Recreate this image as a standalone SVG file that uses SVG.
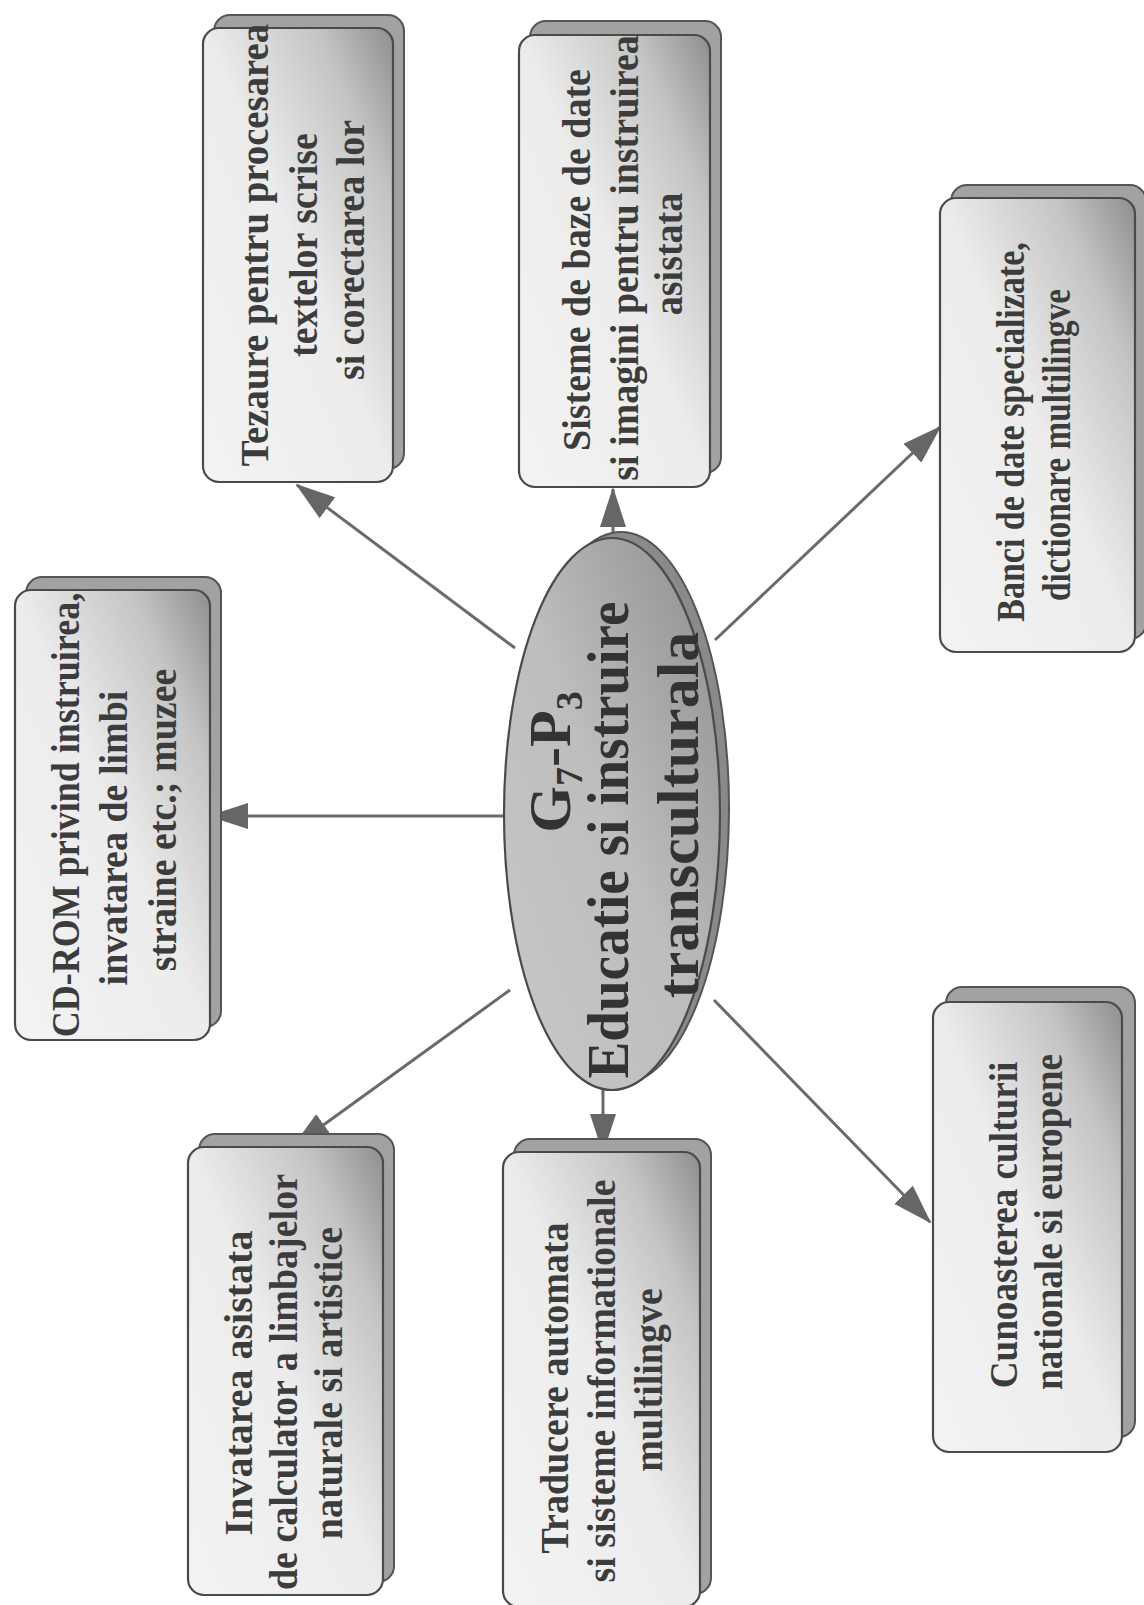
<svg xmlns="http://www.w3.org/2000/svg" width="1144" height="1605" viewBox="0 0 1144 1605">
  <style>
    .back { fill: #a2a2a2; stroke: #555; stroke-width: 2; }
    .front { fill: url(#boxGrad); stroke: #4a4a4a; stroke-width: 2.2; }
    .t { font-family: "Liberation Serif", "Times New Roman", serif; font-weight: bold; font-size: 40px; fill: #3c3c3c; text-anchor: middle; }
    .et { font-family: "Liberation Serif", "Times New Roman", serif; font-weight: bold; font-size: 60px; fill: #333; text-anchor: middle; }
    .conn { stroke: #6a6a6a; stroke-width: 3; fill: none; marker-end: url(#arrow); }
  </style>
  <defs>
    <linearGradient id="boxGrad" x1="0" y1="1" x2="1" y2="0">
      <stop offset="0" stop-color="#f3f3f3"/>
      <stop offset="0.5" stop-color="#ececec"/>
      <stop offset="0.8" stop-color="#c4c4c4"/>
      <stop offset="1" stop-color="#8e8e8e"/>
    </linearGradient>
    <linearGradient id="ellGrad" x1="0" y1="1" x2="1" y2="0">
      <stop offset="0" stop-color="#c8c8c8"/>
      <stop offset="0.5" stop-color="#bdbdbd"/>
      <stop offset="1" stop-color="#8c8c8c"/>
    </linearGradient>
    <marker id="arrow" markerUnits="userSpaceOnUse" markerWidth="40" markerHeight="26" refX="38" refY="13" orient="auto">
      <path d="M0,0 L40,13 L0,26 z" fill="#666"/>
    </marker>
  </defs>
  <rect width="1144" height="1605" fill="#fff"/>

  <g id="connectors">
    <line class="conn" x1="515" y1="648" x2="297" y2="485"/>
    <line class="conn" x1="613" y1="545" x2="613" y2="489"/>
    <line class="conn" x1="715" y1="640" x2="940" y2="427"/>
    <line class="conn" x1="504" y1="816" x2="210" y2="816"/>
    <line class="conn" x1="510" y1="990" x2="293" y2="1147"/>
    <line class="conn" x1="603" y1="1086" x2="603" y2="1152"/>
    <line class="conn" x1="714" y1="1000" x2="930" y2="1222"/>
  </g>

  <g id="center">
    <ellipse cx="621" cy="808" rx="108" ry="276" fill="#8a8a8a" stroke="#555" stroke-width="2"/>
    <ellipse cx="612" cy="814" rx="108" ry="276" fill="url(#ellGrad)" stroke="#4a4a4a" stroke-width="2.2"/>
    <text class="et" transform="translate(570 762) rotate(-90)">G<tspan font-size="38" dy="12">7</tspan><tspan dy="-12">-P</tspan><tspan font-size="38" dy="12">3</tspan></text>
    <text class="et" transform="translate(628 840) rotate(-90) scale(0.92 1)">Educatie si instruire</text>
    <text class="et" transform="translate(698 815) rotate(-90)" font-size="66">transculturala</text>
  </g>

  <g id="tezaure">
    <rect class="back" x="214" y="15" width="190" height="454" rx="16"/>
    <rect class="front" x="203" y="28" width="190" height="454" rx="16"/>
    <text class="t" transform="translate(268 245) rotate(-90) scale(0.97 1)">Tezaure pentru procesarea</text>
    <text class="t" transform="translate(317 245) rotate(-90) scale(0.95 1)">textelor scrise</text>
    <text class="t" transform="translate(364 250) rotate(-90) scale(0.95 1)">si corectarea lor</text>
  </g>

  <g id="sisteme">
    <rect class="back" x="530" y="21" width="191" height="452" rx="16"/>
    <rect class="front" x="519" y="35" width="191" height="452" rx="16"/>
    <text class="t" transform="translate(590 260) rotate(-90) scale(0.95 1)">Sisteme de baze de date</text>
    <text class="t" transform="translate(638 258) rotate(-90) scale(0.95 1)">si imagini pentru instruirea</text>
    <text class="t" transform="translate(682 254) rotate(-90) scale(0.95 1)">asistata</text>
  </g>

  <g id="banci">
    <rect class="back" x="951" y="185" width="195" height="454" rx="16"/>
    <rect class="front" x="940" y="198" width="195" height="454" rx="16"/>
    <text class="t" transform="translate(1024 432) rotate(-90) scale(0.85 1)">Banci de date specializate,</text>
    <text class="t" transform="translate(1070 445) rotate(-90) scale(0.83 1)">dictionare multilingve</text>
  </g>

  <g id="cdrom">
    <rect class="back" x="26" y="577" width="195" height="450" rx="16"/>
    <rect class="front" x="15" y="590" width="195" height="450" rx="16"/>
    <text class="t" transform="translate(79 815) rotate(-90) scale(0.9 1)">CD-ROM privind instruirea,</text>
    <text class="t" transform="translate(127 838) rotate(-90) scale(0.95 1)">invatarea de limbi</text>
    <text class="t" transform="translate(176 820) rotate(-90) scale(0.95 1)">straine etc.; muzee</text>
  </g>

  <g id="invatarea">
    <rect class="back" x="199" y="1134" width="195" height="448" rx="16"/>
    <rect class="front" x="188" y="1147" width="195" height="448" rx="16"/>
    <text class="t" transform="translate(252 1383) rotate(-90) scale(1 1)">Invatarea asistata</text>
    <text class="t" transform="translate(297 1382) rotate(-90) scale(0.95 1)">de calculator a limbajelor</text>
    <text class="t" transform="translate(342 1383) rotate(-90) scale(0.95 1)">naturale si artistice</text>
  </g>

  <g id="traducere">
    <rect class="back" x="514" y="1139" width="197" height="455" rx="16"/>
    <rect class="front" x="503" y="1152" width="197" height="455" rx="16"/>
    <text class="t" transform="translate(568 1388) rotate(-90) scale(0.95 1)">Traducere automata</text>
    <text class="t" transform="translate(615 1381) rotate(-90) scale(0.95 1)">si sisteme informationale</text>
    <text class="t" transform="translate(662 1380) rotate(-90) scale(0.95 1)">multilingve</text>
  </g>

  <g id="cunoasterea">
    <rect class="back" x="946" y="987" width="189" height="450" rx="16"/>
    <rect class="front" x="933" y="1002" width="189" height="450" rx="16"/>
    <text class="t" transform="translate(1017 1225) rotate(-90) scale(0.93 1)">Cunoasterea culturii</text>
    <text class="t" transform="translate(1062 1222) rotate(-90) scale(0.93 1)">nationale si europene</text>
  </g>
</svg>
